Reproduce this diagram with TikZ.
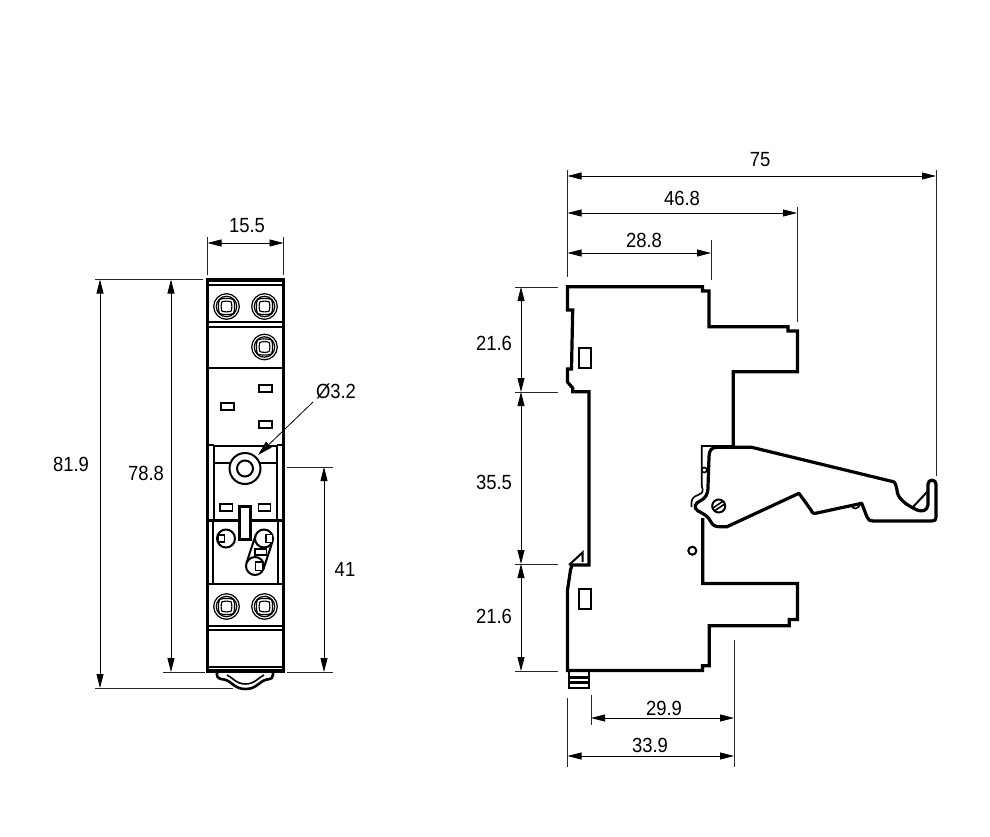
\documentclass[tikz,border=0pt]{standalone}
\usepackage{fontspec}
\setmainfont{Liberation Sans}
\usetikzlibrary{arrows.meta}
\tikzset{
 thick line/.style={line width=3pt,line join=miter,line cap=butt},
 mid line/.style={line width=2pt},
 thin part/.style={line width=1.6pt},
 ext/.style={line width=0.8pt,black!85},
 dimline/.style={line width=0.8pt,{Stealth[length=14pt,width=7pt,inset=0pt]}-{Stealth[length=14pt,width=7pt,inset=0pt]}},
 lead/.style={line width=0.8pt,-{Stealth[length=15pt,width=8pt,inset=0pt]}},
 lbl/.style={font=\fontsize{20.5}{20.5}\selectfont,inner sep=0pt,text=black,xscale=.9},
 screw/.pic={
  \draw[line width=1.2pt] (0,0) circle (12.8) (0,0) circle (10.2);
  \draw[line width=1.2pt] (-7,-7) .. controls (-3,-8.5) and (3,-8.5) .. (7,-7) .. controls (8.5,-3) and (8.5,3) .. (7,7) .. controls (3,8.5) and (-3,8.5) .. (-7,7) .. controls (-8.5,3) and (-8.5,-3) .. (-7,-7) -- cycle;
  \draw[line width=1.1pt] (-4.6,-4.6) .. controls (-2,-5.6) and (2,-5.6) .. (4.6,-4.6) .. controls (5.6,-2) and (5.6,2) .. (4.6,4.6) .. controls (2,5.6) and (-2,5.6) .. (-4.6,4.6) .. controls (-5.6,2) and (-5.6,-2) .. (-4.6,-4.6) -- cycle;
 }
}
\begin{document}
\begin{tikzpicture}[x=1pt,y=-1pt]
\useasboundingbox (0,0) rectangle (990,837);
% ---------- front view
\draw[mid line] (207.5,285) -- (283.5,285);
\draw[mid line] (207.5,322) -- (283.5,322) (207.5,327) -- (283.5,327);
\draw[mid line] (207.5,368) -- (283.5,368);
\draw[line width=3.4pt,line join=miter] (207.5,280) rectangle (283.5,671);
\pic at (226.5,306.5) {screw};
\pic at (264.5,306.5) {screw};
\pic at (264.5,347) {screw};
\draw[line width=2pt] (258.5,385) rectangle (271.5,392) (221,403) rectangle (233.5,410) (258.5,420.5) rectangle (271.5,427.5);
% upper plate
\draw[mid line] (214,520) -- (214,446) (276.5,520) -- (276.5,446) (207.5,444.5) -- (214,444.5) (276.5,444.5) -- (283.5,444.5);
\draw[mid line] (214,446) -- (276.5,446);
\draw[thin part] (214,463) -- (231,463) (260,463) -- (276.5,463);
\draw[mid line] (245,468.5) circle (15.5);
\draw[mid line] (245,468.5) circle (8);
\draw[thin part] (220,504) rectangle (232.5,511) (258.5,504) rectangle (270.5,511);
\draw[line width=3pt] (207.5,520) -- (283.5,520);
\draw[line width=3pt,fill=white] (239.5,506) rectangle (250,539);
% lower plate
\draw[mid line] (212.5,520) -- (212.5,583) (277.5,520) -- (277.5,583);
\draw[mid line] (207.5,583.5) -- (283.5,583.5);
\draw[mid line] (226,538.5) circle (9);
\draw[thin part,fill=white] (218.5,535) rectangle (224.5,542);
\draw[mid line] (264,538.5) circle (9);
\draw[mid line] (255,566) circle (9);
\draw[mid line] (255.5,535.5) -- (246.5,563) (272.5,541.5) -- (263.5,569);
\draw[thin part,fill=white] (266,534.5) rectangle (272.5,542.5);
\draw[thin part,fill=white] (255.5,562) rectangle (262.5,570.5);
\draw[thin part,fill=white] (255,549) rectangle (266.5,555);
\pic at (226.5,606.5) {screw};
\pic at (264.5,606.5) {screw};
\draw[mid line] (207.5,625.5) -- (283.5,625.5) (207.5,630) -- (283.5,630) (207.5,667) -- (283.5,667);
% clip foot
\draw[line width=2.6pt] (217,672) -- (217,675) .. controls (217,678) and (220,679) .. (224,679.5) .. controls (232,681) and (234,689) .. (245.5,689) .. controls (257,689) and (259,681) .. (267,679.5) .. controls (271,679) and (273,678) .. (273,675) -- (273,672);
\draw[thin part] (227,675) .. controls (232,677) and (236,684) .. (245.5,684) .. controls (255,684) and (259,677) .. (264,675);
% ---------- side view
\draw[thick line,line width=3.2pt] (702.7,518) -- (702.7,583.5) -- (797.5,583.5) -- (797.5,619.5) -- (789.3,619.5) -- (789.3,625.7) -- (709.3,625.7) -- (709.3,665.7) -- (702.5,665.7) -- (702.5,670.5) -- (567.5,670.5) -- (567.5,590) -- (570.5,570) -- (572,565) -- (589,565) -- (589,391.7) -- (572.7,391.7) -- (572.7,388) -- (567.5,382) -- (567.5,369) -- (571.5,369) -- (572.7,310) -- (567.5,310) -- (567.5,286.7) -- (702.5,286.7) -- (702.5,291) -- (709,291) -- (709,326.7) -- (788,326.7) -- (788,331) -- (797.5,331) -- (797.5,371.7) -- (733.3,371.7) -- (733.3,447);
\draw[mid line] (569,565) -- (582.5,552.5) -- (582.5,562);
\draw[line width=1.8pt] (578.7,347.7) rectangle (590.7,368.3) (578.7,589) rectangle (590.7,609.3);
\draw[line width=2.6pt] (569,671) -- (569,688) -- (589,688) -- (589,671) (569,677.7) -- (589,677.7) (569,682.3) -- (589,682.3);
% lever
\draw[line width=3.2pt,line join=round] (893.3,481.7) -- (751.7,447.3) -- (717,447.3) .. controls (711,447.3) and (709,451) .. (709,457) -- (708,486.7) .. controls (708,494) and (706,498) .. (700,501) .. controls (695,503) and (693,508) .. (698,511) .. controls (704,514) and (708,516) .. (711,522) .. controls (713,526) and (716,526.7) .. (720,526.7) -- (727,526.7) -- (799,493.3) -- (811,510) .. controls (812,513) and (814,514) .. (817,513) -- (861.7,503.3) -- (867,517) .. controls (868,520) and (870,521) .. (873,521) -- (932,521) .. controls (935,521) and (936,520) .. (936,517) -- (936,484) .. controls (936,479) and (928,479) .. (928,484) -- (928,505) .. controls (927,511) and (922,512) .. (917,510) .. controls (906,505) and (897,498) .. (897,490) .. controls (896,485) and (895,482) .. (893.3,481.7) -- cycle;
\draw[mid line] (912,508) -- (928,491);
\draw[thin part] (851,504.5) .. controls (852,510) and (859,510) .. (860,503.5);
\draw[thin part] (733,446) -- (701.7,446) -- (701.7,486) .. controls (703,490) and (704,493) .. (698,495) .. controls (692,497) and (691,500) .. (691.5,507);
\draw[thin part,fill=white] (704.3,470) circle (2.5);
\draw[mid line] (718.7,506) circle (6.5);
\draw[thin part] (713,508) -- (722.5,501.5) (715,510.5) -- (724,504.5);
\draw[mid line] (692.3,550.7) circle (4);
% ---------- dimensions
\coordinate (a1) at (207.5,243); \coordinate (a2) at (283.5,243);
\draw[ext] (207.5,237) -- (207.5,275) (283.5,237) -- (283.5,275);
\draw[dimline] (a1) -- (a2);
\node[lbl] (t155) at (247,226) {15.5};
\coordinate (b1) at (100,279.5); \coordinate (b2) at (100,688);
\draw[ext] (95,279.5) -- (203,279.5) (95,688) -- (233,688);
\draw[dimline] (b1) -- (b2);
\node[lbl] (t819) at (71,464) {81.9};
\coordinate (c1) at (171,279.5); \coordinate (c2) at (171,672);
\draw[ext] (163,672) -- (205,672);
\draw[dimline] (c1) -- (c2);
\node[lbl] (t788) at (146,473) {78.8};
\coordinate (d1) at (324,467); \coordinate (d2) at (324,672);
\draw[ext] (287,467) -- (333,467) (287,672) -- (333,672);
\draw[dimline] (d1) -- (d2);
\node[lbl] (t41) at (345,569) {41};
\node[lbl] (tphi) at (336,391) {Ø3.2};
\coordinate (l1) at (313,402); \coordinate (l2) at (258,455);
\draw[lead] (l1) -- (l2);
% side dimensions
\draw[ext] (567.5,170) -- (567.5,277) (936,170) -- (936,476) (797,207) -- (797,322) (711,240) -- (711,280);
\coordinate (e1) at (567.5,176); \coordinate (e2) at (936,176);
\draw[dimline] (e1) -- (e2);
\node[lbl] (t75) at (760,160) {75};
\coordinate (f1) at (567.5,213); \coordinate (f2) at (797,213);
\draw[dimline] (f1) -- (f2);
\node[lbl] (t468) at (682,198) {46.8};
\coordinate (g1) at (567.5,253); \coordinate (g2) at (711,253);
\draw[dimline] (g1) -- (g2);
\node[lbl] (t288) at (644,240) {28.8};
\draw[ext] (515,287) -- (558,287) (515,392) -- (558,392) (515,564) -- (558,564) (515,671) -- (558,671);
\coordinate (h1) at (521,287); \coordinate (h2) at (521,392); \coordinate (h3) at (521,564); \coordinate (h4) at (521,671);
\draw[dimline] (h1) -- (h2);
\draw[dimline] (h2) -- (h3);
\draw[dimline] (h3) -- (h4);
\node[lbl] (t216a) at (494,343) {21.6};
\node[lbl] (t355) at (494,482) {35.5};
\node[lbl] (t216b) at (494,616) {21.6};
\draw[ext] (591,695) -- (591,725) (567.5,698) -- (567.5,767) (734,640) -- (734,767);
\coordinate (i1) at (591,718); \coordinate (i2) at (734,718);
\draw[dimline] (i1) -- (i2);
\node[lbl] (t299) at (664,708) {29.9};
\coordinate (j1) at (567.5,756); \coordinate (j2) at (734,756);
\draw[dimline] (j1) -- (j2);
\node[lbl] (t339) at (650,745) {33.9};
\end{tikzpicture}
\end{document}
